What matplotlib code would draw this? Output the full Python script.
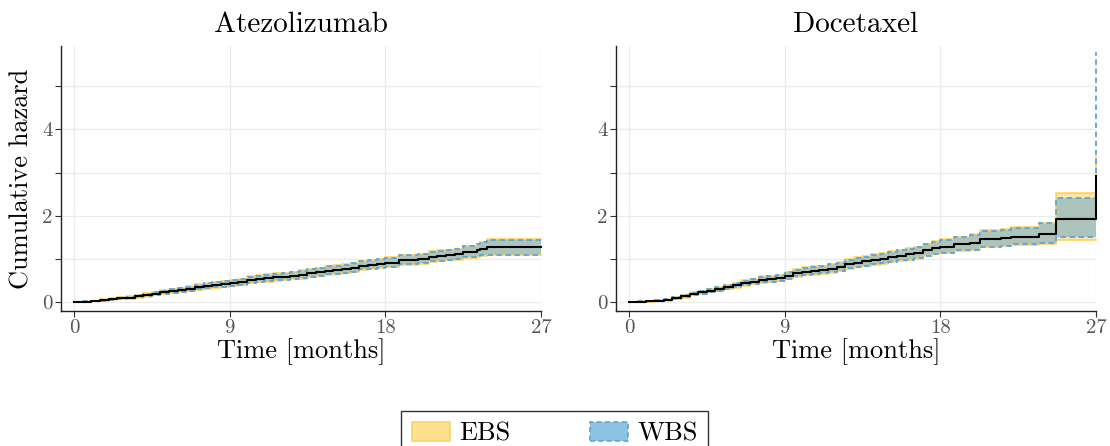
import matplotlib
matplotlib.use("Agg")
import matplotlib.pyplot as plt
from matplotlib.patches import Patch

plt.rcParams.update({
    "font.family": "cmr10",
    "mathtext.fontset": "cm",
    "axes.unicode_minus": False,
})

# Atezolizumab arm: cumulative hazard estimate with EBS / WBS bands
t_atez = [0, 0.5, 1, 1.5, 2, 2.5, 3, 3.5, 4, 4.5, 5, 5.5, 6, 6.5, 7, 7.5, 8, 8.5,
          9, 9.5, 10, 10.5, 11, 11.5, 12, 12.5, 13, 13.5, 14, 14.5, 15, 15.5, 16,
          16.5, 17, 17.5, 18, 18.8, 19.9, 20.5, 21, 21.5, 22, 22.5, 23.3, 23.5,
          23.9, 27]
est_atez = [0, 0.01, 0.03, 0.05, 0.07, 0.09, 0.11, 0.14, 0.17, 0.20,
            0.23, 0.26, 0.28, 0.31, 0.35, 0.38, 0.40, 0.42, 0.44, 0.47,
            0.51, 0.54, 0.56, 0.58, 0.59, 0.61, 0.64, 0.67, 0.70, 0.73,
            0.75, 0.77, 0.80, 0.85, 0.87, 0.89, 0.92,
            0.98, 1.00, 1.05, 1.07, 1.09, 1.11, 1.17, 1.21, 1.24, 1.27, 1.27]
ebs_hi_atez = [0, 0.02, 0.04, 0.07, 0.09, 0.12, 0.14, 0.18, 0.21, 0.25,
               0.28, 0.31, 0.34, 0.37, 0.42, 0.45, 0.47, 0.50, 0.52, 0.55,
               0.60, 0.63, 0.65, 0.67, 0.69, 0.71, 0.74, 0.77, 0.80, 0.84,
               0.86, 0.88, 0.91, 0.96, 0.99, 1.01, 1.04,
               1.10, 1.12, 1.18, 1.20, 1.22, 1.24, 1.31, 1.36, 1.40, 1.46, 1.46]
ebs_lo_atez = [0, 0, 0.02, 0.03, 0.05, 0.07, 0.08, 0.11, 0.13, 0.16,
               0.19, 0.21, 0.23, 0.26, 0.29, 0.32, 0.34, 0.35, 0.37, 0.40,
               0.44, 0.46, 0.48, 0.50, 0.51, 0.53, 0.55, 0.58, 0.61, 0.64,
               0.65, 0.67, 0.70, 0.75, 0.77, 0.79, 0.81,
               0.87, 0.89, 0.94, 0.95, 0.97, 0.99, 1.03, 1.06, 1.08, 1.09, 1.09]
wbs_hi_atez = [0, 0.02, 0.04, 0.06, 0.08, 0.11, 0.13, 0.17, 0.20, 0.24,
               0.27, 0.30, 0.33, 0.36, 0.41, 0.44, 0.46, 0.49, 0.51, 0.54,
               0.59, 0.62, 0.64, 0.66, 0.68, 0.70, 0.73, 0.76, 0.79, 0.83,
               0.85, 0.87, 0.90, 0.95, 0.98, 1.00, 1.03,
               1.09, 1.11, 1.17, 1.19, 1.21, 1.23, 1.30, 1.35, 1.39, 1.45, 1.45]
wbs_lo_atez = [0, 0.01, 0.03, 0.04, 0.06, 0.08, 0.09, 0.12, 0.14, 0.17,
               0.20, 0.22, 0.24, 0.27, 0.30, 0.33, 0.35, 0.36, 0.38, 0.41,
               0.45, 0.47, 0.49, 0.51, 0.52, 0.54, 0.56, 0.59, 0.62, 0.65,
               0.66, 0.68, 0.71, 0.76, 0.78, 0.80, 0.82,
               0.88, 0.90, 0.95, 0.96, 0.98, 1.00, 1.04, 1.07, 1.09, 1.10, 1.10]

# Docetaxel arm
t_doce = [0, 0.5, 1, 1.5, 2, 2.5, 3, 3.5, 4, 4.5, 5, 5.5, 6, 6.5, 7, 7.5, 8, 8.5,
          9, 9.5, 10, 10.5, 11, 11.5, 12, 12.5, 13, 13.5, 14, 14.5, 15, 15.5, 16,
          16.5, 17, 17.5, 18, 18.8, 19.7, 20.3, 21.5, 22.1, 23.7, 24.7, 27]
est_doce = [0, 0.01, 0.02, 0.04, 0.06, 0.10, 0.14, 0.19, 0.23, 0.27,
            0.31, 0.35, 0.39, 0.44, 0.48, 0.52, 0.54, 0.56, 0.62, 0.67,
            0.71, 0.73, 0.75, 0.78, 0.82, 0.88, 0.92, 0.95, 0.98, 1.01,
            1.05, 1.08, 1.11, 1.14, 1.20, 1.25, 1.29,
            1.34, 1.38, 1.46, 1.48, 1.52, 1.57, 1.92, 2.92]
ebs_hi_doce = [0, 0.02, 0.03, 0.06, 0.08, 0.13, 0.17, 0.23, 0.27, 0.32,
               0.36, 0.41, 0.45, 0.51, 0.55, 0.60, 0.62, 0.64, 0.71, 0.76,
               0.81, 0.83, 0.85, 0.89, 0.93, 1.00, 1.04, 1.07, 1.11, 1.14,
               1.18, 1.22, 1.25, 1.29, 1.35, 1.41, 1.46,
               1.52, 1.57, 1.67, 1.69, 1.75, 1.84, 2.54, 3.36]
ebs_lo_doce = [0, 0, 0.01, 0.02, 0.04, 0.07, 0.11, 0.16, 0.19, 0.23,
               0.26, 0.30, 0.34, 0.38, 0.42, 0.45, 0.47, 0.49, 0.54, 0.59,
               0.63, 0.64, 0.66, 0.69, 0.72, 0.78, 0.81, 0.84, 0.87, 0.89,
               0.93, 0.96, 0.98, 1.01, 1.07, 1.11, 1.14,
               1.19, 1.21, 1.28, 1.30, 1.33, 1.35, 1.44, 1.44]
wbs_hi_doce = [0, 0.02, 0.03, 0.05, 0.07, 0.12, 0.16, 0.22, 0.26, 0.31,
               0.35, 0.40, 0.44, 0.50, 0.54, 0.59, 0.61, 0.63, 0.70, 0.75,
               0.80, 0.82, 0.84, 0.88, 0.92, 0.99, 1.03, 1.06, 1.10, 1.13,
               1.17, 1.21, 1.24, 1.28, 1.34, 1.40, 1.45,
               1.51, 1.56, 1.66, 1.68, 1.71, 1.83, 2.41, 5.80]
wbs_lo_doce = [0, 0.01, 0.02, 0.03, 0.05, 0.08, 0.12, 0.17, 0.20, 0.24,
               0.27, 0.31, 0.35, 0.39, 0.43, 0.46, 0.48, 0.50, 0.55, 0.60,
               0.64, 0.65, 0.67, 0.70, 0.73, 0.79, 0.82, 0.85, 0.88, 0.90,
               0.94, 0.97, 0.99, 1.02, 1.08, 1.12, 1.15,
               1.20, 1.22, 1.29, 1.31, 1.34, 1.37, 1.52, 1.52]

panels = [
    ("Atezolizumab", t_atez, est_atez, ebs_lo_atez, ebs_hi_atez, wbs_lo_atez, wbs_hi_atez),
    ("Docetaxel", t_doce, est_doce, ebs_lo_doce, ebs_hi_doce, wbs_lo_doce, wbs_hi_doce),
]

ebs_col = "#FFCC4D"
wbs_col = "#5DA5D5"

fig = plt.figure(figsize=(11.1, 4.46), dpi=100)
lefts = [61 / 1110, 616 / 1110]

for i, (name, t, est, elo, ehi, wlo, whi) in enumerate(panels):
    ax = fig.add_axes([lefts[i], 135 / 446, 480 / 1110, 265 / 446])
    ax.fill_between(t, elo, ehi, step="post", color=ebs_col, alpha=0.5, lw=0)
    ax.fill_between(t, wlo, whi, step="post", color=wbs_col, alpha=0.5, lw=0)
    for arr in (elo, ehi):
        ax.step(t, arr, where="post", color=ebs_col, lw=1.3, alpha=0.8, clip_on=False)
    for arr in (wlo, whi):
        ax.step(t, arr, where="post", color=wbs_col, lw=1.3, ls=(0, (3, 2)),
                clip_on=False)
    ax.step(t, est, where="post", color="black", lw=1.5, clip_on=False, zorder=5)

    ax.set_xlim(-0.75, 27)
    ax.set_ylim(-0.2, 5.93)
    ax.set_xticks([0, 9, 18, 27])
    ax.set_yticks([0, 1, 2, 3, 4, 5])
    ax.set_yticklabels(["0", "", "2", "", "4", ""])
    ax.grid(True, color="#EBEBEB", lw=0.9)
    ax.set_axisbelow(True)
    for side in ("top", "right"):
        ax.spines[side].set_visible(False)
    for side in ("left", "bottom"):
        ax.spines[side].set_color("#222222")
        ax.spines[side].set_linewidth(1.0)
    ax.tick_params(colors="#333333", labelcolor="#555555", labelsize=15,
                   length=4, width=0.8, pad=2)
    ax.set_title(name, fontsize=21, pad=10)
    ax.set_xlabel("Time [months]", fontsize=19, labelpad=1)
    if i == 0:
        ax.set_ylabel("Cumulative hazard", fontsize=19, labelpad=6)

handles = [
    Patch(facecolor="#FEE08F", edgecolor="#F9D36A", lw=1.2, label="EBS"),
    Patch(facecolor="#8EC2E1", edgecolor=wbs_col, lw=1.2, ls=(0, (3, 2)), label="WBS"),
]
leg = fig.legend(handles=handles, loc="upper center", bbox_to_anchor=(554.5 / 1110, 35 / 446),
                 ncol=2, fontsize=19, frameon=True, fancybox=False, edgecolor="black",
                 handlelength=1.45, handleheight=0.75, handletextpad=0.35,
                 columnspacing=3.0, borderpad=0.4, borderaxespad=0)
leg.get_frame().set_linewidth(1.0)

fig.savefig("out.png", dpi=100)
